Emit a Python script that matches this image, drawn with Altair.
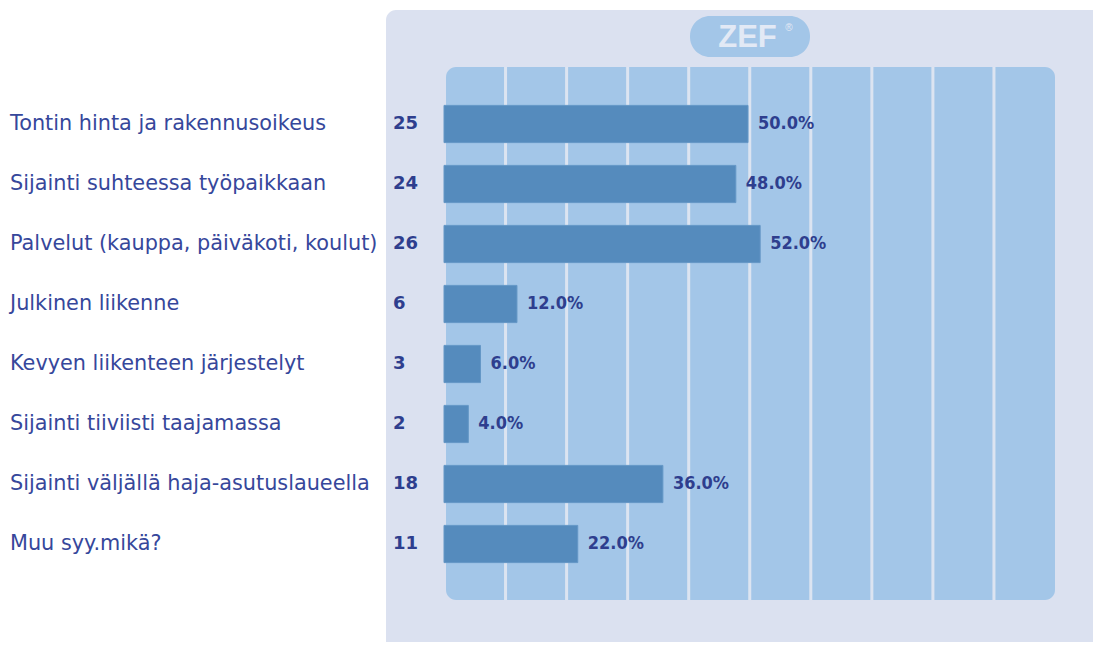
import altair as alt
import pandas as pd

labels = [
    "Tontin hinta ja rakennusoikeus",
    "Sijainti suhteessa työpaikkaan",
    "Palvelut (kauppa, päiväkoti, koulut)",
    "Julkinen liikenne",
    "Kevyen liikenteen järjestelyt",
    "Sijainti tiiviisti taajamassa",
    "Sijainti väljällä haja-asutuslaueella",
    "Muu syy.mikä?",
]
counts = [25, 24, 26, 6, 3, 2, 18, 11]
percents = [50.0, 48.0, 52.0, 12.0, 6.0, 4.0, 36.0, 22.0]
grid_values = [10, 20, 30, 40, 50, 60, 70, 80, 90]

df = pd.DataFrame({
    "label": labels,
    "count": counts,
    "pct": percents,
    "pct_text": [f"{p:.1f}%" for p in percents],
})
grid_df = pd.DataFrame({"g": grid_values})
one = pd.DataFrame({"k": [0]})

W, H = 608, 480
TEXT = "#2E3E8E"

xs = alt.Scale(domain=[0, 100], range=[0, W])
ys = alt.Scale(domain=labels, paddingInner=0.38, paddingOuter=0.19)

outer = alt.Chart(one).mark_rect(color="#DBE1F0", cornerRadius=10).encode(
    x=alt.value(-58), x2=alt.value(700), y=alt.value(-84), y2=alt.value(620)
)
inner = alt.Chart(one).mark_rect(color="#A3C6E8", cornerRadius=10).encode(
    x=alt.value(2), x2=alt.value(611), y=alt.value(-27), y2=alt.value(506)
)
grid = alt.Chart(grid_df).mark_rule(color="#DCE4F1", strokeWidth=3).encode(
    x=alt.X("g:Q", scale=alt.Scale(domain=[0, 100], range=[0.5, 611]), axis=None),
    y=alt.value(-27), y2=alt.value(506),
)
bars = alt.Chart(df).mark_bar(color="#558BBD", stroke="#6497C6", strokeWidth=1).encode(
    x=alt.X("pct:Q", scale=xs, axis=None),
    y=alt.Y("label:N", scale=ys, axis=None, sort=labels),
)
lab = alt.Chart(df).mark_text(
    align="left", baseline="middle", font="DejaVu Sans", fontSize=20.8, color="#36479B"
).encode(
    x=alt.value(-434),
    y=alt.Y("label:N", scale=ys, axis=None, sort=labels),
    text="label:N",
)
cnt = alt.Chart(df).mark_text(
    align="left", baseline="middle", font="DejaVu Sans", fontWeight="bold", fontSize=18, color=TEXT
).encode(
    x=alt.value(-51),
    y=alt.Y("label:N", scale=ys, axis=None, sort=labels),
    text="count:Q",
)
pct = alt.Chart(df).mark_text(
    align="left", baseline="middle", dx=10,
    font="DejaVu Sans Condensed, DejaVu Sans", fontWeight="bold", fontSize=18, color=TEXT
).encode(
    x=alt.X("pct:Q", scale=xs, axis=None),
    y=alt.Y("label:N", scale=ys, axis=None, sort=labels),
    text="pct_text:N",
)
pill = alt.Chart(one).mark_rect(color="#A3C6E8", cornerRadius=20).encode(
    x=alt.value(246), x2=alt.value(366), y=alt.value(-78), y2=alt.value(-37)
)
logo = alt.Chart(one).mark_text(
    text="ZEF", align="center", baseline="alphabetic", font="Liberation Sans",
    fontWeight="bold", fontSize=31, color="#E2E9F5"
).encode(x=alt.value(303.5), y=alt.value(-47))
reg = alt.Chart(one).mark_text(
    text="®", align="center", baseline="middle", font="Liberation Sans",
    fontSize=10, color="#E2E9F5"
).encode(x=alt.value(345), y=alt.value(-66))

chart = alt.layer(outer, inner, grid, bars, lab, cnt, pct, pill, logo, reg).resolve_scale(
    x="independent"
).properties(
    width=W, height=H,
    autosize=alt.AutoSizeParams(type="none"),
    padding={"left": 436, "top": 86, "right": 41, "bottom": 68},
    background="white",
).configure_view(stroke=None)

chart.save("out.html", embed_options={"renderer": "svg", "actions": False})
